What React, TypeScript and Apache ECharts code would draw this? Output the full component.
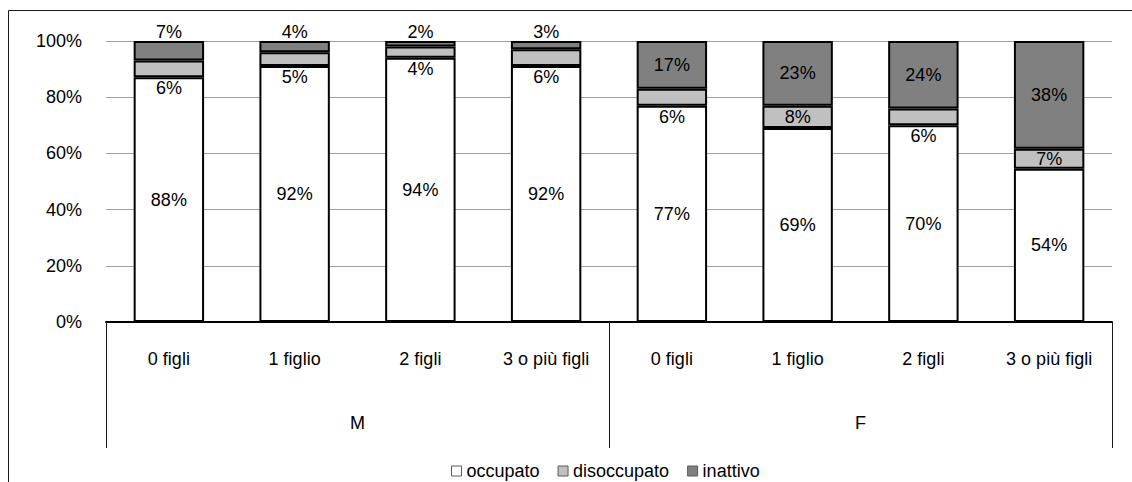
import React, { useEffect, useRef } from "react";
import * as echarts from "echarts";

const categories = ["0 figli", "1 figlio", "2 figli", "3 o più figli", "0 figli", "1 figlio", "2 figli", "3 o più figli"];
const groups = ["M", "F"];
const seriesNames = ["occupato", "disoccupato", "inattivo"];
const occupato = [88, 92, 94, 92, 77, 69, 70, 54];
const disoccupato = [6, 5, 4, 6, 6, 8, 6, 7];
const inattivo = [7, 4, 2, 3, 17, 23, 24, 38];
const yTicks = [0, 20, 40, 60, 80, 100];

// label placement for each point: "inside" | "top" | "bottom"
const disoccupatoLabelPos = ["bottom", "bottom", "bottom", "bottom", "bottom", "inside", "bottom", "inside"];
const inattivoLabelPos = ["top", "top", "top", "top", "inside", "inside", "inside", "inside"];

const FONT = "'Liberation Sans Narrow', 'Arial Narrow', 'Liberation Sans', Arial, sans-serif";
const FS = 18;

export default function App() {
  const ref = useRef<HTMLDivElement>(null);
  useEffect(() => {
    if (!ref.current) return;
    const chart = echarts.init(ref.current, undefined, { renderer: "svg" });
    const raw = [occupato, disoccupato, inattivo];
    const totals = categories.map((_, i) => occupato[i] + disoccupato[i] + inattivo[i]);
    const colors = ["#ffffff", "#c0c0c0", "#808080"];
    const positions = [categories.map(() => "inside"), disoccupatoLabelPos, inattivoLabelPos];

    const series = raw.map((arr, si) => ({
      name: seriesNames[si],
      type: "bar",
      stack: "total",
      barWidth: "56%",
      xAxisIndex: 0,
      itemStyle: { color: colors[si], borderColor: "#000", borderWidth: 2 },
      data: arr.map((v, i) => ({
        value: (v / totals[i]) * 100,
        label: {
          show: true,
          position: positions[si][i],
          distance: positions[si][i] === "top" ? 0 : 2,
          formatter: () => `${v}%`,
          color: "#000",
          fontFamily: FONT,
          fontSize: FS,
        },
      })),
    }));

    chart.setOption({
      animation: false,
      textStyle: { fontFamily: FONT },
      graphic: [
        {
          type: "rect",
          shape: { x: 8.5, y: 10.5, width: 1300, height: 700 },
          style: { fill: "none", stroke: "#1a1a1a", lineWidth: 1 },
          silent: true,
          z: -10,
        },
      ],
      legend: {
        left: 451,
        top: 462,
        itemWidth: 10,
        itemHeight: 10,
        itemGap: 18,
        icon: "rect",
        padding: 0,
        itemStyle: { borderColor: "#5a5a5a", borderWidth: 1 },
        textStyle: { fontFamily: FONT, fontSize: 18, lineHeight: 18, color: "#000" },
        data: seriesNames,
      },
      grid: { left: 106, right: 20, top: 41, bottom: 160, containLabel: false },
      xAxis: [
        {
          type: "category",
          data: categories,
          position: "bottom",
          axisLine: { show: true, lineStyle: { color: "#000", width: 2 } },
          axisTick: { show: false },
          axisLabel: { margin: 28, color: "#000", fontFamily: FONT, fontSize: FS, interval: 0 },
        },
        {
          type: "category",
          data: groups,
          position: "bottom",
          axisLine: { show: false },
          axisTick: { show: true, length: 126, lineStyle: { color: "#1a1a1a", width: 1 } },
          axisLabel: { margin: 92, color: "#000", fontFamily: FONT, fontSize: FS },
        },
      ],
      yAxis: {
        type: "value",
        min: yTicks[0],
        max: yTicks[yTicks.length - 1],
        interval: 20,
        axisLine: { show: false },
        axisTick: { show: false },
        axisLabel: { formatter: "{value}%", margin: 24, color: "#000", fontFamily: FONT, fontSize: FS },
        splitLine: { show: true, lineStyle: { color: "#a0a0a0", width: 1 } },
      },
      series,
    });
    return () => chart.dispose();
  }, []);
  return (
    <div
      ref={ref}
      style={{ position: "fixed", left: 0, top: 0, width: 1132, height: 482, background: "#fff" }}
    />
  );
}
